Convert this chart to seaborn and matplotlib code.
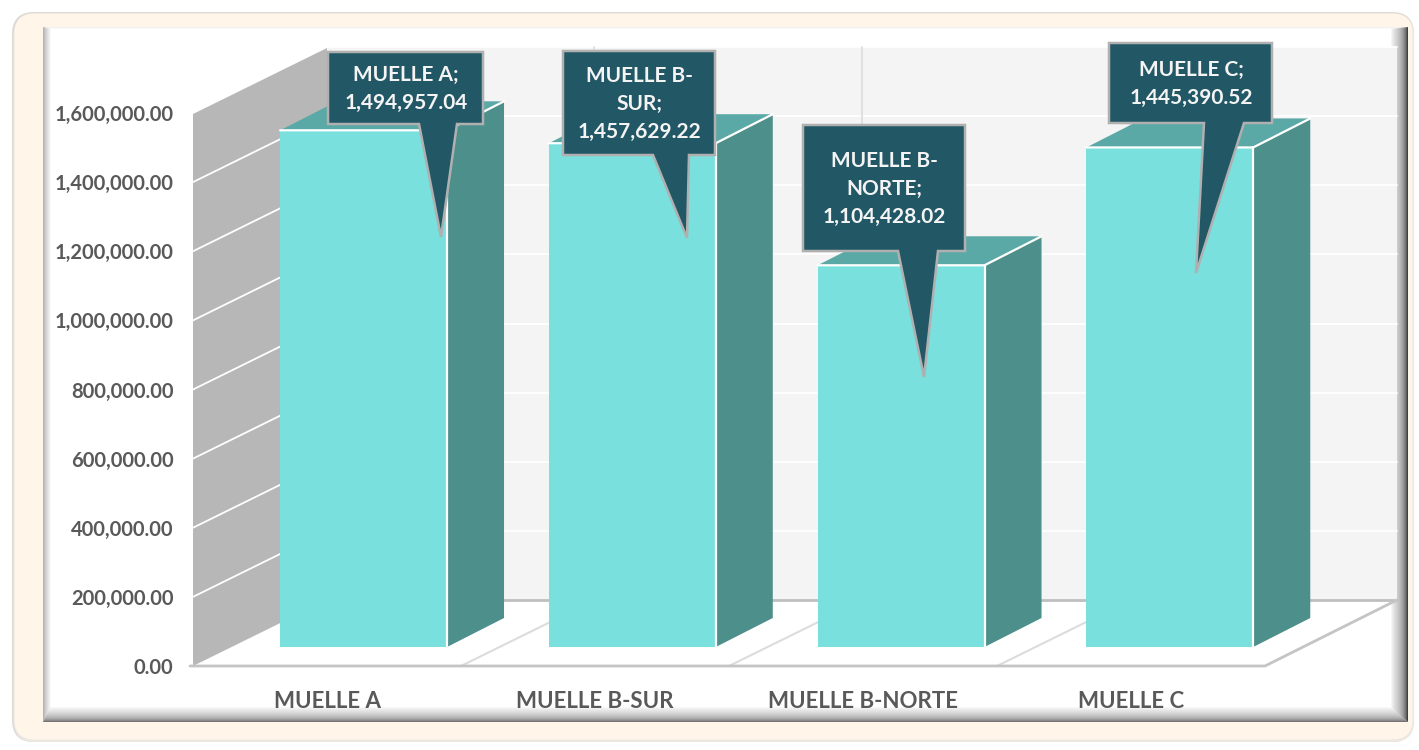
import matplotlib
matplotlib.use("Agg")
import matplotlib.pyplot as plt
from matplotlib.patches import FancyBboxPatch, Polygon
import seaborn as sns

# datos
muelles = ["MUELLE A", "MUELLE B-SUR", "MUELLE B-NORTE", "MUELLE C"]
valores = [1494957.04, 1457629.22, 1104428.02, 1445390.52]
ticks_y = [0, 200000, 400000, 600000, 800000, 1000000, 1200000, 1400000, 1600000]
etiquetas_y = ["0.00", "200,000.00", "400,000.00", "600,000.00", "800,000.00",
               "1,000,000.00", "1,200,000.00", "1,400,000.00", "1,600,000.00"]

W, H = 1419, 750
GRIS_TEXTO = "#595959"
TURQUESA = "#79e0dd"
TAPA = "#5aa9a6"
LADO = "#4d8f8b"
GLOBO = "#225766"

sns.set_theme(style="white")
plt.rcParams["font.family"] = ["Lato", "DejaVu Sans"]
plt.rcParams["font.weight"] = "bold"

fig = plt.figure(figsize=(W / 100, H / 100), dpi=100, facecolor="white")

# capa de fondo en pixeles (y hacia abajo)
pix = fig.add_axes([0, 0, 1, 1], zorder=0)
pix.set_xlim(0, W)
pix.set_ylim(H, 0)
pix.axis("off")


def rect_ax(left, top, right, bottom):
    return [left / W, (H - bottom) / H, (right - left) / W, (bottom - top) / H]


def mezcla(c1, c2, t):
    return tuple(a + (b - a) * t for a, b in zip(c1, c2))


# marco crema
for off, col in [(0, "#dedad5"), (1.5, "#ece7e0")]:
    pix.add_patch(FancyBboxPatch((12 + off + 20, 12 + off + 20), 1402 - 40 - off, 730 - 40 - off,
                                 boxstyle="round,pad=20,rounding_size=22", fc=col, ec="none"))
pix.add_patch(FancyBboxPatch((14.5 + 20, 13.5 + 20), 1398 - 40, 726 - 40,
                             boxstyle="round,pad=20,rounding_size=20", fc="#fff5e8", ec="none"))
pix.add_patch(Polygon([(43, 27), (1408, 27), (1408, 722), (43, 722)], fc="white", ec="none"))

# biselado del panel
pasos = 16
blanco = (1, 1, 1)
for i in range(pasos):
    t0 = i / pasos
    t1 = (i + 1) / pasos
    g = t0 ** 0.8
    x0, x1 = 43 + 8 * t0, 43 + 8 * t1
    y0, y1 = 27 + 2 * t0, 27 + 2 * t1
    r0, r1 = 1408 - 17 * t0, 1408 - 17 * t1
    b0, b1 = 722 - 15 * t0, 722 - 15 * t1
    pix.add_patch(Polygon([(x0, y0), (x1, y1), (x1, b1), (x0, b0)],
                          fc=mezcla((0.58, 0.58, 0.58), blanco, g), ec="none"))
    pix.add_patch(Polygon([(r0, y0), (r1, y1), (r1, b1), (r0, b0)],
                          fc=mezcla((0.25, 0.25, 0.25), blanco, g), ec="none"))
    pix.add_patch(Polygon([(x0, b0), (r0, b0), (r1, b1), (x1, b1)],
                          fc=mezcla((0.42, 0.42, 0.42), blanco, g), ec="none"))
    pix.add_patch(Polygon([(x0, y0), (r0, y0), (r1, y1), (x1, y1)],
                          fc=mezcla((0.9, 0.9, 0.92), blanco, g), ec="none"))

# ejes: uno para la base del grafico, otro desplazado para las barras
ax_base = fig.add_axes(rect_ax(193, 113, 1265, 666), zorder=1)
ax_base.patch.set_alpha(0)
ax_base.set_xlim(-0.5, 3.5)
ax_base.set_ylim(0, 1600000)
ax_base.set_xticks(range(len(muelles)), muelles)
ax_base.set_yticks(ticks_y, etiquetas_y)
ax_base.tick_params(axis="y", length=0, pad=14, labelsize=14.5, labelcolor=GRIS_TEXTO)
ax_base.tick_params(axis="x", length=0, pad=18, labelsize=16, labelcolor=GRIS_TEXTO)
sns.despine(ax=ax_base, left=True, bottom=True)

ax_bar = fig.add_axes(rect_ax(229.2, 94, 1304.2, 647), zorder=2)
ax_bar.patch.set_alpha(0)
sns.barplot(x=muelles, y=valores, ax=ax_bar, color=TURQUESA, width=0.621, saturation=1, linewidth=0)
ax_bar.set_xlim(-0.5, 3.5)
ax_bar.set_ylim(0, 1600000)
ax_bar.axis("off")

# paredes y suelo en perspectiva
PX, PY = 134, -66
x_izq, x_der, y_suelo = 193, 1265, 666
y_tope = ax_base.transData.transform((0, 1600000))[1]
y_tope = H - y_tope
pix.add_patch(Polygon([(x_izq + PX, y_tope + PY), (x_izq + PX + 1072 - 2, y_tope + PY),
                       (x_der + PX - 2, y_suelo + PY), (x_izq + PX, y_suelo + PY)],
                      fc="#f4f4f4", ec="none"))
pix.add_patch(Polygon([(x_izq, y_tope), (x_izq + PX, y_tope + PY),
                       (x_izq + PX, y_suelo + PY), (x_izq, y_suelo)], fc="#b7b7b7", ec="none"))

for v in ticks_y[1:]:
    yp = H - ax_base.transData.transform((0, v))[1]
    pix.plot([x_izq, x_izq + PX], [yp, yp + PY], color="white", lw=1.3)
    pix.plot([x_izq + PX, x_der + PX - 2], [yp + PY, yp + PY], color="white", lw=1.3)

for k in range(1, len(muelles)):
    xp = ax_base.transData.transform((k - 0.5, 0))[0]
    pix.plot([xp, xp + PX], [y_suelo, y_suelo + PY], color="#dcdcdc", lw=1.5)
    pix.plot([xp + PX - 1, xp + PX - 1], [y_suelo + PY, y_tope + PY], color="#dcdcdc", lw=1.2)

pix.plot([x_izq + PX, x_der + PX - 2], [y_suelo + PY] * 2, color="#bfbfbf", lw=2)
pix.plot([x_izq - 3, x_der, x_der + PX - 2], [y_suelo, y_suelo, y_suelo + PY], color="#c4c4c4", lw=2)

# caras 3D de cada barra, sacadas de las barras reales
DX, DY = 57, -29
for barra in ax_bar.patches:
    caja = barra.get_window_extent()
    l, r = caja.x0, caja.x1
    t, b = H - caja.y1, H - caja.y0
    ax_bar.add_patch(Polygon([(l, t), (r, t), (r + DX, t + DY), (l + DX, t + DY)], fc=TAPA, ec="none",
                             transform=pix.transData, clip_on=False))
    ax_bar.add_patch(Polygon([(r, t), (r + DX, t + DY), (r + DX, b + DY), (r, b)], fc=LADO, ec="none",
                             transform=pix.transData, clip_on=False))
    ax_bar.plot([l, r, r + DX], [t, t, t + DY], color="white", lw=1.6,
                transform=pix.transData, clip_on=False, solid_joinstyle="miter")
    ax_bar.plot([r, r], [t, b], color="white", lw=1.6, transform=pix.transData, clip_on=False)

# globos de texto: caja (izq, arriba, der, abajo), base de la cola y punta
globos = [
    ((328, 52, 483, 124), (419, 457), (441, 237)),
    ((563, 51, 715, 155), (653, 689), (687, 238)),
    ((803, 125, 965, 251), (898, 938), (924, 377)),
    ((1109, 43, 1272, 123), (1204, 1244), (1196, 273)),
]
for nombre, valor, (caja, cola, punta) in zip(muelles, valores, globos):
    izq, arr, der, aba = caja
    forma = [(izq, arr), (der, arr), (der, aba), (cola[1], aba), punta, (cola[0], aba), (izq, aba)]
    ax_bar.add_patch(Polygon(forma, closed=True, fc=GLOBO, ec="#b0b0b0", lw=1.8,
                             transform=pix.transData, clip_on=False, zorder=5))
    texto = nombre.replace("B-", "B-\n") + ";\n" + f"{valor:,.2f}"
    ax_bar.text((izq + der) / 2 + 0.5, (arr + aba) / 2 + 1, texto, transform=pix.transData, color="#f4f4f4",
                fontsize=15, ha="center", va="center", linespacing=1.47, zorder=6, clip_on=False)

fig.savefig("out.png", dpi=100)
